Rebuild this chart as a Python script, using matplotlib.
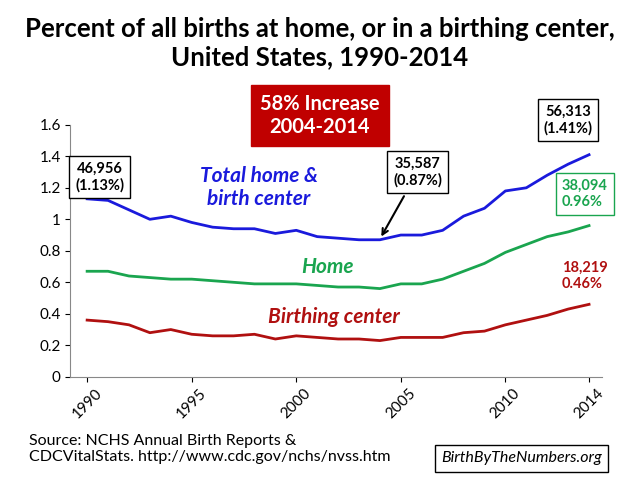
import matplotlib
matplotlib.use("Agg")
import matplotlib.pyplot as plt

plt.rcParams['font.family'] = ['Lato', 'DejaVu Sans']

years = list(range(1990, 2015))
total = [1.13, 1.12, 1.06, 1.00, 1.02, 0.98, 0.95, 0.94, 0.94, 0.91, 0.93, 0.89, 0.88,
         0.87, 0.87, 0.90, 0.90, 0.93, 1.02, 1.07, 1.18, 1.20, 1.28, 1.35, 1.41]
home = [0.67, 0.67, 0.64, 0.63, 0.62, 0.62, 0.61, 0.60, 0.59, 0.59, 0.59, 0.58, 0.57,
        0.57, 0.56, 0.59, 0.59, 0.62, 0.67, 0.72, 0.79, 0.84, 0.89, 0.92, 0.96]
center = [0.36, 0.35, 0.33, 0.28, 0.30, 0.27, 0.26, 0.26, 0.27, 0.24, 0.26, 0.25, 0.24,
          0.24, 0.23, 0.25, 0.25, 0.25, 0.28, 0.29, 0.33, 0.36, 0.39, 0.43, 0.46]
tick_years = [1990, 1995, 2000, 2005, 2010, 2014]

blue, green, red = '#1a1adc', '#1aa54f', '#b01010'

fig = plt.figure(figsize=(6.4, 4.8), dpi=100)
ax = fig.add_axes([0.11, 0.215, 0.83, 0.525])
ax.plot(years, total, color=blue, lw=2)
ax.plot(years, home, color=green, lw=2)
ax.plot(years, center, color=red, lw=2)
ax.set_xlim(1989.2, 2014.6)
ax.set_ylim(0, 1.6)
ax.set_yticks([0, 0.2, 0.4, 0.6, 0.8, 1, 1.2, 1.4, 1.6])
ax.set_yticklabels(['0', '0.2', '0.4', '0.6', '0.8', '1', '1.2', '1.4', '1.6'], fontsize=11)
ax.set_xticks(tick_years)
ax.set_xticklabels([str(y) for y in tick_years], rotation=45, fontsize=11)
for s in ['top', 'right']:
    ax.spines[s].set_visible(False)
ax.spines['left'].set_color('#888888')
ax.spines['bottom'].set_color('#888888')

fig.text(0.5, 0.965, 'Percent of all births at home, or in a birthing center,\nUnited States, 1990-2014',
         ha='center', va='top', fontsize=18.5, fontweight='bold', linespacing=1.2)

fig.text(0.5, 0.76, '58% Increase\n2004-2014', ha='center', va='center', fontsize=14.5,
         fontweight='bold', color='white',
         bbox=dict(boxstyle='square,pad=0.45', fc='#c00000', ec='#c00000'))

box = dict(boxstyle='square,pad=0.4', fc='white', ec='black', lw=1)
ax.text(1990.6, 1.27, '46,956\n(1.13%)', ha='center', va='center', fontsize=10.5, fontweight='bold', bbox=box)
ax.text(2013.0, 1.63, '56,313\n(1.41%)', ha='center', va='center', fontsize=10.5, fontweight='bold', bbox=box)
ax.annotate('35,587\n(0.87%)', xy=(2004, 0.875), xytext=(2005.8, 1.3), ha='center', va='center',
            fontsize=10.5, fontweight='bold', bbox=box,
            arrowprops=dict(arrowstyle='->', color='black', lw=1.5))
ax.text(2012.7, 1.16, '38,094\n0.96%', ha='left', va='center', fontsize=10.5, fontweight='bold',
        color=green, bbox=dict(boxstyle='square,pad=0.4', fc='white', ec=green))
ax.text(2012.7, 0.64, '18,219\n0.46%', ha='left', va='center', fontsize=10.5, fontweight='bold',
        color=red)

ax.text(1998.2, 1.2, 'Total home &\nbirth center', ha='center', va='center', fontsize=15,
        fontweight='bold', style='italic', color=blue)
ax.text(2001.5, 0.7, 'Home', ha='center', va='center', fontsize=15, fontweight='bold',
        style='italic', color=green)
ax.text(2001.8, 0.38, 'Birthing center', ha='center', va='center', fontsize=15,
        fontweight='bold', style='italic', color=red)

fig.text(0.045, 0.065, 'Source: NCHS Annual Birth Reports &\nCDCVitalStats. http://www.cdc.gov/nchs/nvss.htm',
         ha='left', va='center', fontsize=11.5)
fig.text(0.815, 0.045, 'BirthByTheNumbers.org', ha='center', va='center', fontsize=11.5, style='italic',
         bbox=dict(boxstyle='square,pad=0.4', fc='white', ec='black'))

fig.savefig('out.png', dpi=100)
